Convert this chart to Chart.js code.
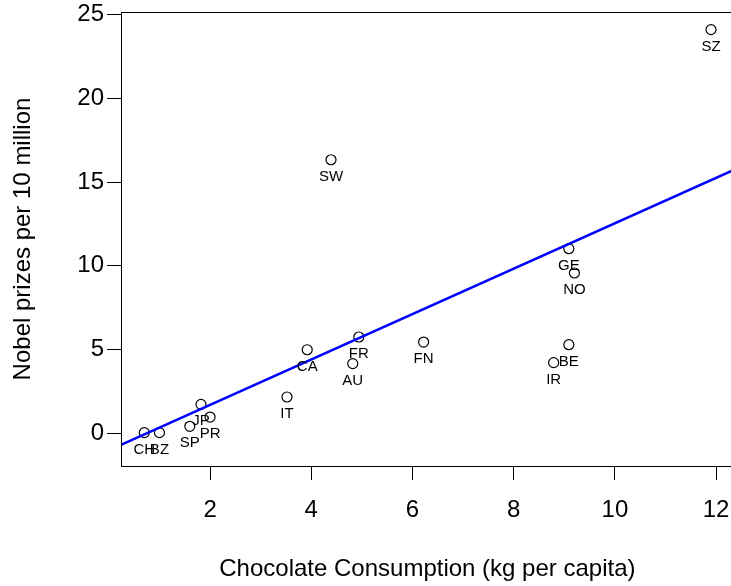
<!DOCTYPE html>
<html lang="en">
<head>
  <meta charset="UTF-8">
  <title>Chocolate Consumption vs Nobel Prizes</title>
  <script src="https://cdn.jsdelivr.net/npm/chart.js"></script>
  <style>
    html, body {
      margin: 0;
      padding: 0;
      background: #fff;
      overflow: hidden;
    }
    /* plot box runs slightly past the right edge of the window */
    .chart-wrap {
      width: 740px;
      height: 586px;
    }
  </style>
</head>
<body>
  <div class="chart-wrap">
    <canvas id="nobelChart"></canvas>
  </div>

  <script>
    // Country codes, chocolate consumption (kg/capita), Nobel laureates per 10 million
    const countries = ["CH", "BZ", "SP", "JP", "PR", "IT", "CA", "AU", "FR", "SW",
                       "FN", "IR", "BE", "GE", "NO", "SZ"];
    const chocolate = [0.70, 1.00, 1.60, 1.82, 2.00, 3.52, 3.92, 4.82, 4.94, 4.39,
                       6.22, 8.79, 9.09, 9.09, 9.20, 11.90];
    const nobel     = [0.04, 0.04, 0.42, 1.73, 0.97, 2.17, 4.99, 4.16, 5.75, 16.33,
                       5.45, 4.22, 5.29, 11.02, 9.57, 24.10];

    const xTicks = [2, 4, 6, 8, 10, 12];
    const yTicks = [0, 5, 10, 15, 20, 25];

    const xRange = [0.24, 12.35];
    const yRange = [-1.95, 25.15];

    // least squares fit of nobel on chocolate
    const n = chocolate.length;
    const mx = chocolate.reduce((s, v) => s + v, 0) / n;
    const my = nobel.reduce((s, v) => s + v, 0) / n;
    let sxy = 0, sxx = 0;
    for (let i = 0; i < n; i++) {
      sxy += (chocolate[i] - mx) * (nobel[i] - my);
      sxx += (chocolate[i] - mx) * (chocolate[i] - mx);
    }
    const slope = sxy / sxx;
    const intercept = my - slope * mx;

    const fitLine = xRange.map(x => ({ x: x, y: intercept + slope * x }));
    const points = chocolate.map((x, i) => ({ x: x, y: nobel[i] }));

    const FONT = "'Liberation Sans', Arial, Helvetica, sans-serif";

    // box around the plot region
    const boxPlugin = {
      id: 'plotBox',
      afterDraw(chart) {
        const a = chart.chartArea;
        const ctx = chart.ctx;
        ctx.save();
        ctx.strokeStyle = '#000';
        ctx.lineWidth = 1;
        ctx.strokeRect(Math.round(a.left) + 0.5, Math.round(a.top) + 0.5,
                       Math.round(a.right - a.left), Math.round(a.bottom - a.top));
        ctx.restore();
      }
    };

    // country code under each circle
    const pointLabels = {
      id: 'pointLabels',
      afterDatasetsDraw(chart) {
        const meta = chart.getDatasetMeta(1);
        const ctx = chart.ctx;
        ctx.save();
        ctx.font = '15px ' + FONT;
        ctx.fillStyle = '#000';
        ctx.textAlign = 'center';
        ctx.textBaseline = 'middle';
        meta.data.forEach((el, i) => {
          ctx.fillText(countries[i], el.x, el.y + 17);
        });
        ctx.restore();
      }
    };

    const axisTicks = {
      display: true,
      drawOnChartArea: false,
      drawTicks: true,
      tickLength: 14,
      color: '#000',
      lineWidth: 1
    };

    new Chart(document.getElementById('nobelChart'), {
      type: 'scatter',
      data: {
        datasets: [
          {
            type: 'line',
            label: 'fit',
            data: fitLine,
            borderColor: '#0000ff',
            borderWidth: 2.5,
            pointRadius: 0,
            fill: false
          },
          {
            label: 'countries',
            data: points,
            pointStyle: 'circle',
            pointRadius: 5,
            borderColor: '#000',
            borderWidth: 1.2,
            backgroundColor: 'rgba(0,0,0,0)'
          }
        ]
      },
      options: {
        responsive: true,
        maintainAspectRatio: false,
        animation: false,
        layout: { padding: { top: 12, right: 5, bottom: 0, left: 0 } },
        plugins: {
          legend: { display: false },
          tooltip: { enabled: false }
        },
        scales: {
          x: {
            type: 'linear',
            min: xRange[0],
            max: xRange[1],
            afterBuildTicks: s => { s.ticks = xTicks.map(v => ({ value: v })); },
            afterFit: s => { s.height = 120; s.paddingLeft = 0; s.paddingRight = 0; },
            grid: axisTicks,
            border: { display: false },
            ticks: {
              color: '#000',
              padding: 16,
              maxRotation: 0,
              font: { family: FONT, size: 24 }
            },
            title: {
              display: true,
              text: 'Chocolate Consumption (kg per capita)',
              color: '#000',
              padding: { top: 0, bottom: 2 },
              font: { family: FONT, size: 24, weight: 'normal' }
            }
          },
          y: {
            type: 'linear',
            min: yRange[0],
            max: yRange[1],
            afterBuildTicks: s => { s.ticks = yTicks.map(v => ({ value: v })); },
            afterFit: s => { s.width = 121; s.paddingTop = 0; s.paddingBottom = 0; },
            grid: axisTicks,
            border: { display: false },
            ticks: {
              color: '#000',
              padding: 3,
              font: { family: FONT, size: 24 }
            },
            title: {
              display: true,
              text: 'Nobel prizes per 10 million',
              color: '#000',
              padding: { top: 9, bottom: 0 },
              font: { family: FONT, size: 24, weight: 'normal' }
            }
          }
        }
      },
      plugins: [boxPlugin, pointLabels]
    });
  </script>
</body>
</html>
